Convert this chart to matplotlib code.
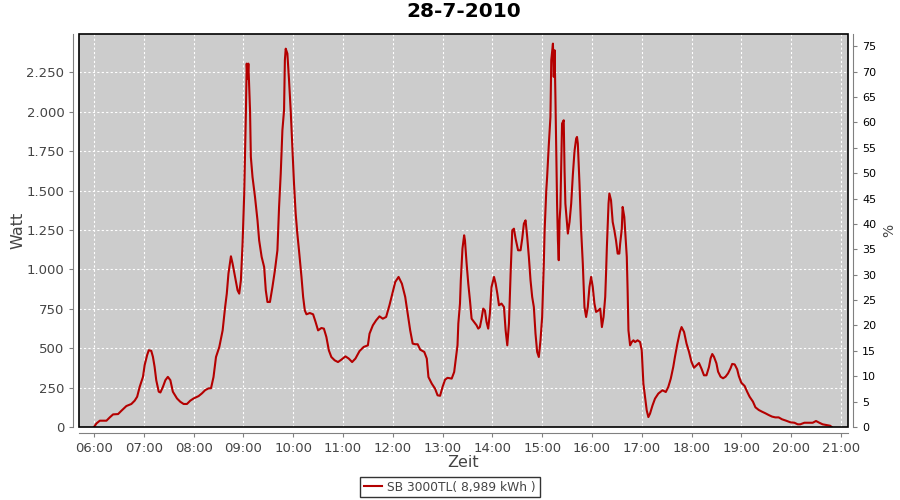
import matplotlib
matplotlib.use("Agg")
import matplotlib.pyplot as plt
from matplotlib.patches import Rectangle

# Leistungsdaten vom 28-7-2010
zeiten = [
    "06:00", "06:03", "06:07", "06:15", "06:19", "06:23", "06:29", "06:33", "06:39", "06:45",
    "06:49", "06:52", "06:55", "06:59", "07:01", "07:04", "07:06", "07:09", "07:11", "07:13",
    "07:15", "07:18", "07:20", "07:23", "07:26", "07:29", "07:32", "07:35", "07:40", "07:44",
    "07:48", "07:52", "07:56", "08:00", "08:06", "08:10", "08:14", "08:18", "08:21", "08:24",
    "08:27", "08:31", "08:35", "08:38", "08:40", "08:42", "08:45", "08:47", "08:50", "08:53",
    "08:55", "08:57", "08:59", "09:01", "09:03", "09:04", "09:05", "09:06", "09:08", "09:09",
    "09:11", "09:14", "09:17", "09:19", "09:22", "09:25", "09:27", "09:29", "09:32", "09:35",
    "09:38", "09:41", "09:43", "09:45", "09:47", "09:49", "09:50", "09:51", "09:53", "09:55",
    "09:57", "09:59", "10:01", "10:03", "10:05", "10:07", "10:10", "10:12", "10:14", "10:16",
    "10:20", "10:24", "10:27", "10:30", "10:34", "10:37", "10:40", "10:43", "10:46", "10:50",
    "10:54", "10:58", "11:03", "11:07", "11:11", "11:15", "11:20", "11:25", "11:30", "11:32",
    "11:36", "11:40", "11:44", "11:48", "11:52", "11:56", "12:00", "12:03", "12:07", "12:11",
    "12:15", "12:18", "12:21", "12:24", "12:27", "12:30", "12:33", "12:38", "12:41", "12:43",
    "12:47", "12:51", "12:54", "12:57", "13:00", "13:03", "13:06", "13:11", "13:14", "13:16",
    "13:18", "13:19", "13:21", "13:22", "13:24", "13:26", "13:27", "13:29", "13:31", "13:33",
    "13:35", "13:38", "13:41", "13:43", "13:45", "13:47", "13:49", "13:51", "13:53", "13:55",
    "13:57", "13:59", "14:02", "14:04", "14:06", "14:08", "14:11", "14:14", "14:16", "14:18",
    "14:20", "14:22", "14:24", "14:26", "14:28", "14:31", "14:34", "14:36", "14:38", "14:40",
    "14:42", "14:44", "14:46", "14:48", "14:50", "14:52", "14:54", "14:56", "14:58", "15:00",
    "15:02", "15:03", "15:05", "15:06", "15:08", "15:10", "15:11", "15:13", "15:14", "15:15",
    "15:16", "15:18", "15:19", "15:20", "15:21", "15:22", "15:24", "15:25", "15:26", "15:27",
    "15:28", "15:30", "15:31", "15:33", "15:35", "15:37", "15:39", "15:41", "15:42", "15:43",
    "15:45", "15:47", "15:49", "15:51", "15:53", "15:55", "15:57", "15:59", "16:01", "16:03",
    "16:05", "16:08", "16:10", "16:12", "16:14", "16:16", "16:17", "16:18", "16:20", "16:21",
    "16:23", "16:25", "16:27", "16:29", "16:31", "16:33", "16:34", "16:36", "16:37", "16:38",
    "16:39", "16:40", "16:42", "16:43", "16:44", "16:46", "16:48", "16:50", "16:52", "16:55",
    "16:58", "17:00", "17:02", "17:04", "17:06", "17:08", "17:10", "17:13", "17:16", "17:20",
    "17:25", "17:29", "17:32", "17:35", "17:38", "17:40", "17:43", "17:46", "17:48", "17:51",
    "17:54", "17:57", "18:00", "18:03", "18:06", "18:09", "18:12", "18:15", "18:18", "18:21",
    "18:23", "18:25", "18:27", "18:30", "18:32", "18:35", "18:38", "18:41", "18:44", "18:47",
    "18:49", "18:52", "18:55", "18:57", "19:00", "19:04", "19:07", "19:10", "19:14", "19:17",
    "19:21", "19:25", "19:29", "19:33", "19:37", "19:41", "19:45", "19:49", "19:54", "19:59",
    "20:04", "20:08", "20:11", "20:16", "20:22", "20:26", "20:30", "20:34", "20:38", "20:42",
    "20:47", "20:49",
]
watt = [
    0, 23, 40, 40, 61, 80, 82, 103, 133, 146,
    167, 192, 254, 318, 392, 456, 487, 483, 445, 382,
    297, 224, 219, 254, 297, 318, 297, 224, 181, 160,
    146, 146, 167, 181, 196, 213, 234, 245, 246, 317,
    444, 508, 613, 761, 846, 973, 1083, 1036, 952, 867,
    846, 931, 1163, 1481, 1988, 2305, 2210, 2305, 2009, 1713,
    1586, 1459, 1311, 1184, 1079, 1015, 867, 793, 793, 888,
    994, 1121, 1396, 1607, 1882, 2009, 2327, 2400, 2369, 2200,
    2009, 1777, 1544, 1354, 1227, 1121, 952, 825, 740, 715,
    723, 715, 666, 613, 628, 624, 571, 486, 444, 423,
    412, 427, 448, 434, 412, 434, 482, 508, 518, 592,
    645, 677, 702, 687, 698, 772, 857, 920, 952, 909,
    825, 719, 613, 529, 525, 525, 491, 476, 434, 317,
    275, 243, 201, 198, 254, 300, 312, 307, 349, 434,
    518, 656, 783, 931, 1132, 1216, 1184, 1036, 909, 804,
    687, 666, 645, 624, 634, 687, 751, 740, 666, 624,
    719, 888, 952, 909, 846, 772, 783, 761, 613, 518,
    656, 973, 1248, 1258, 1195, 1121, 1121, 1195, 1290, 1311,
    1205, 1079, 931, 825, 761, 592, 476, 444, 550, 698,
    1036, 1248, 1502, 1586, 1787, 1967, 2327, 2432, 2221, 2390,
    2094, 1417, 1184, 1058, 1311, 1396, 1925, 1935, 1946, 1629,
    1417, 1290, 1227, 1300, 1417, 1600, 1750, 1830, 1840, 1798,
    1544, 1248, 1036, 761, 698, 761, 888, 952, 888, 783,
    730, 740, 751, 634, 698, 825, 973, 1142, 1417, 1481,
    1438, 1301, 1248, 1184, 1100, 1100, 1163, 1258, 1396, 1364,
    1332, 1248, 1079, 867, 613, 518, 539, 550, 539, 550,
    539, 486, 275, 190, 106, 63, 85, 137, 180, 212,
    233, 222, 254, 307, 381, 444, 529, 603, 634, 603,
    529, 476, 412, 376, 391, 406, 370, 328, 328, 380,
    436, 463, 446, 404, 351, 319, 309, 319, 340, 372,
    400, 397, 366, 323, 281, 260, 224, 192, 161, 125,
    108, 97, 87, 76, 66, 61, 61, 49, 40, 30,
    27, 17, 17, 27, 27, 27, 38, 27, 17, 13,
    8, 0,
]
stunden = list(range(6, 22))
watt_ticks = list(range(0, 2251, 250))
prozent_ticks = list(range(0, 76, 5))


def zu_stunden(s):
    h, m = s.split(":")
    return int(h) + int(m) / 60


x = [zu_stunden(t) for t in zeiten]

fig = plt.figure(figsize=(9, 5), dpi=100)
ax = fig.add_axes([0.0878, 0.146, 0.854, 0.786])
ax.set_facecolor("#CCCCCC")

grau = "#808080"
text_farbe = "#444444"

ax.plot(x, watt, color="#B40000", linewidth=1.5, label="SB 3000TL( 8,989 kWh )")

ax.set_xlim(5.699, 21.135)
ax.set_ylim(0, 2493)
ax.set_xticks(stunden)
ax.set_xticklabels([f"{h:02d}:00" for h in stunden])
ax.set_yticks(watt_ticks)
ax.set_yticklabels([f"{v:,}".replace(",", ".") for v in watt_ticks])
ax.grid(True, color="white", linestyle=(0, (2, 2)), linewidth=0.8)
ax.set_axisbelow(True)

for side in ["left", "bottom", "right"]:
    ax.spines[side].set_position(("outward", 4))
    ax.spines[side].set_color(grau)
ax.spines["top"].set_visible(False)
ax.spines["right"].set_visible(False)
ax.tick_params(colors=grau, labelcolor=text_farbe, labelsize=9.5, length=3, width=0.8)

# schwarzer Rahmen um die Zeichenfläche
ax.add_patch(Rectangle((0, 0), 1, 1, transform=ax.transAxes, fill=False,
                       edgecolor="black", linewidth=1.2, clip_on=False, zorder=5))

ax.set_xlabel("Zeit", fontsize=11.5, color=text_farbe, labelpad=0)
ax.set_ylabel("Watt", fontsize=11.5, color=text_farbe, labelpad=1)
ax.set_title("28-7-2010", fontsize=14.5, fontweight="bold", pad=12)

ax2 = ax.twinx()
ax2.set_ylim(0, 77.4)
ax2.set_yticks(prozent_ticks)
for side in ["left", "bottom", "top"]:
    ax2.spines[side].set_visible(False)
ax2.spines["right"].set_position(("outward", 4))
ax2.spines["right"].set_color(grau)
ax2.tick_params(colors=grau, labelcolor="black", labelsize=8, length=3, width=0.8)
ax2.set_ylabel("%", fontsize=10, color=text_farbe, labelpad=4)

leg = fig.legend(loc="center", bbox_to_anchor=(0.5, 0.026), fontsize=8.8,
                 frameon=True, fancybox=False, edgecolor="black",
                 handlelength=1.5, borderpad=0.3, handletextpad=0.4)
leg.get_frame().set_linewidth(1.0)
for t in leg.get_texts():
    t.set_color(text_farbe)

fig.savefig("out.png", dpi=100)
